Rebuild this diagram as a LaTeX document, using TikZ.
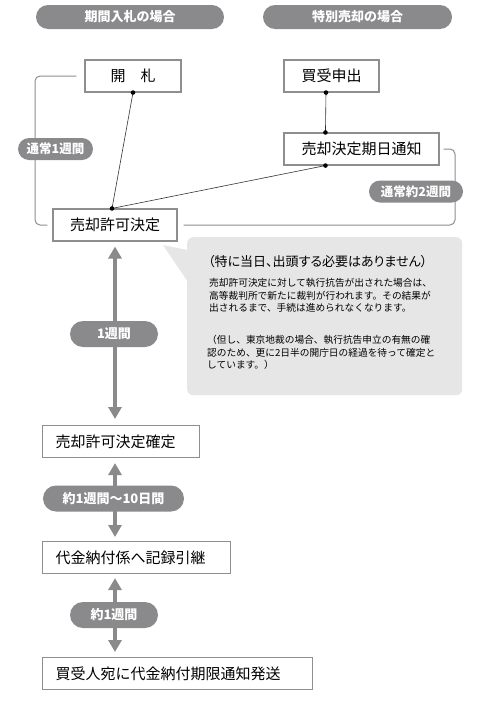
\documentclass[tikz,border=0pt]{standalone}
\usepackage{fontspec}
\setmainfont{Noto Sans CJK JP}
\usetikzlibrary{arrows.meta}
\definecolor{pillgray}{HTML}{8A8A8C}
\definecolor{boxline}{HTML}{8E8E8E}
\definecolor{notefill}{HTML}{E6E6E7}
\definecolor{linedark}{HTML}{333333}
\tikzset{
  stepbox/.style={draw=boxline, line width=1.1pt, fill=white, minimum height=32pt,
    inner sep=0pt, font=\fontsize{15pt}{18pt}\selectfont, text=black},
  leftbox/.style={stepbox, inner xsep=13pt, align=left},
  headpill/.style={fill=pillgray, rounded corners=12pt, minimum height=24pt,
    inner sep=0pt, text=white, font=\bfseries\fontsize{13pt}{15pt}\selectfont},
  pill/.style={fill=pillgray, rounded corners=11pt, minimum height=22pt,
    inner sep=0pt, text=white, font=\bfseries\fontsize{12.5pt}{15pt}\selectfont},
  bigpill/.style={fill=pillgray, rounded corners=13pt, minimum height=26pt,
    inner sep=0pt, text=white, font=\bfseries\fontsize{13pt}{15pt}\selectfont},
  bracket/.style={draw=boxline, line width=1pt, rounded corners=5pt},
  thin/.style={draw=linedark, line width=0.6pt},
  dot/.style={circle, fill=black, inner sep=0pt, minimum size=4.6pt},
  bigarrow/.style={draw=pillgray, line width=4.5pt,
    {Triangle[width=13pt,length=12pt]}-{Triangle[width=13pt,length=12pt]}},
  notetext/.style={inner sep=0pt, align=left, text=black,
    font=\fontsize{9.7pt}{12.7pt}\selectfont},
}
\begin{document}
\begin{tikzpicture}[x=1pt,y=-1pt]
\useasboundingbox (0,0) rectangle (500,723);
\fill[white] (0,0) rectangle (500,723);

% headers
\node[headpill, minimum width=188pt] (h1) at (130,17) {期間入札の場合};
\node[headpill, minimum width=189pt] (h2) at (357.5,17) {特別売却の場合};

% callout
\fill[notefill] (163,245) -- (192,251) -- (192,288) -- cycle;
\node[fill=notefill, rounded corners=6pt, minimum width=275pt, minimum height=158pt,
  inner sep=0pt, anchor=north west] (note) at (187,237) {};
\node[inner sep=0pt, anchor=west, text=black,
  font=\fontsize{13pt}{15pt}\selectfont\addfontfeatures{RawFeature=+palt}]
  (notetitle) at (208,262) {（特に当日、出頭する必要はありません）};
\node[notetext, anchor=north west] (notep1) at (209,278)
  {売却許可決定に対して執行抗告が出された場合は、\\
   高等裁判所で新たに裁判が行われます。その結果が\\
   出されるまで、手続は進められなくなります。};
\node[notetext, anchor=north west] (notep2) at (207,335)
  {（但し、東京地裁の場合、執行抗告申立の有無の確\\
   認のため、更に2日半の開庁日の経過を待って確定と\\
   しています。）};

% top boxes
\node[stepbox, minimum width=96pt] (kaisatsu) at (133,76) {開　札};
\node[stepbox, minimum width=95pt] (kaiuke) at (331.5,76) {買受申出};
\node[stepbox, minimum width=155pt] (tsuchi) at (361.5,149) {売却決定期日通知};
\node[stepbox, minimum width=124pt] (kyoka) at (115,225) {売却許可決定};

% brackets
\draw[bracket] ([xshift=-8pt]kaisatsu.west) -| (35,150) |- ([xshift=-5pt]kyoka.west);
\draw[bracket] ([xshift=4pt]tsuchi.east) -| (455,190) |- ([xshift=6pt]kyoka.east);
\node[pill, minimum width=75pt] (p1) at (55.5,149) {通常1週間};
\node[pill, minimum width=94pt] (p2) at (416,191.5) {通常約2週間};

% thin connectors
\coordinate (c1) at (kaisatsu.south);
\coordinate (c2) at ([xshift=-3pt]kyoka.north);
\coordinate (c3) at ([xshift=-5.5pt]kaiuke.south);
\coordinate (c4) at ([xshift=42pt]tsuchi.north west);
\coordinate (c5) at ([xshift=42pt]tsuchi.south west);
\draw[thin] (c1) -- (c2);
\draw[thin] (c3) -- (c4);
\draw[thin] (c5) -- (c2);
\foreach \c in {c1,c2,c3,c4,c5} \node[dot] at (\c) {};

% lower boxes
\node[leftbox, text width=131pt, anchor=north west] (kakutei) at (42,425) {売却許可決定確定};
\node[leftbox, text width=162pt, anchor=north west] (hikitsugi) at (42,541) {代金納付係へ記録引継};
\node[leftbox, text width=244pt, anchor=north west] (hasso) at (42,657) {買受人宛に代金納付期限通知発送};

% big arrows
\draw[bigarrow, shorten <=5pt, shorten >=6pt] (kyoka.south) -- (kyoka.south |- kakutei.north);
\draw[bigarrow, shorten <=5pt, shorten >=4pt] (kyoka.south |- kakutei.south) -- (kyoka.south |- hikitsugi.north);
\draw[bigarrow, shorten <=4pt, shorten >=5pt] (kyoka.south |- hikitsugi.south) -- (kyoka.south |- hasso.north);
\node[bigpill, minimum width=88pt] (w1) at (114,334) {1週間};
\node[bigpill, minimum width=141pt] (w2) at (113.5,498.5) {約1週間～10日間};
\node[bigpill, minimum width=88pt] (w3) at (114,615) {約1週間};
\end{tikzpicture}
\end{document}
